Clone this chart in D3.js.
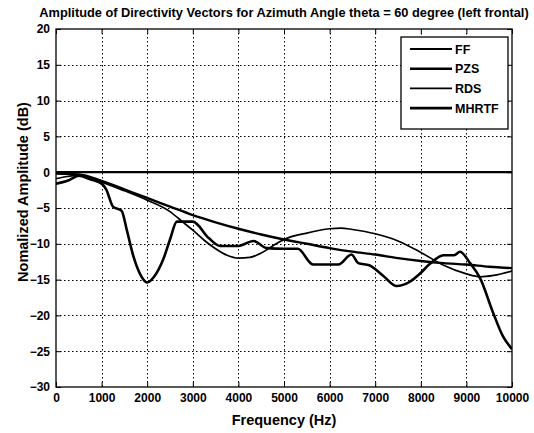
<!DOCTYPE html>
<html>
<head>
<meta charset="utf-8">
<script src="https://cdn.jsdelivr.net/npm/d3@7"></script>
<style>
  html, body { margin: 0; padding: 0; background: #fff; }
  svg { display: block; }
  text { font-family: "Liberation Sans", Arial, sans-serif; font-weight: bold; fill: #000; }
</style>
</head>
<body>
<svg id="chart" width="534" height="433"></svg>
<script>
// Tick values
const xTicks = [0, 1000, 2000, 3000, 4000, 5000, 6000, 7000, 8000, 9000, 10000];
const yTicks = [20, 15, 10, 5, 0, -5, -10, -15, -20, -25, -30];

// Series names
const seriesNames = ["FF", "PZS", "RDS", "MHRTF"];

// FF: free field reference (flat)
const ffFreq = [0, 10000];
const ffAmp = [0, 0];

// PZS
const pzsFreq = [0, 500, 1000, 1500, 2000, 2500, 3000, 3500, 4000, 4500, 5000, 5500, 6000, 6500, 7000, 7500, 8000, 8500, 9000, 9500, 10000];
const pzsAmp = [-0.2, -0.3, -1.2, -2.4, -3.6, -4.8, -6.0, -7.0, -7.9, -8.7, -9.4, -10.0, -10.6, -11.1, -11.5, -12.0, -12.4, -12.7, -12.9, -13.2, -13.4];

// RDS
const rdsFreq = [0, 250, 500, 750, 1000, 1500, 2000, 2500, 2750, 3000, 3250, 3500, 3750, 4000, 4250, 4500, 4750, 5000, 5500, 6000, 6250, 6500, 7000, 7500, 8000, 8500, 9000, 9300, 9600, 10000];
const rdsAmp = [-0.9, -0.6, -0.4, -0.9, -1.4, -2.6, -3.9, -5.5, -6.8, -8.1, -9.5, -10.7, -11.6, -12.0, -11.9, -11.3, -10.3, -9.4, -8.5, -7.9, -7.8, -8.0, -8.6, -9.6, -11.2, -13.0, -14.2, -14.6, -14.4, -13.8];

// MHRTF
const mhrtfFreq = [0, 250, 500, 750, 1000, 1100, 1250, 1440, 1550, 1700, 1850, 2000, 2150, 2350, 2500, 2650, 3000, 3350, 3600, 4000, 4330, 4620, 5000, 5300, 5640, 6190, 6480, 6630, 6870, 7180, 7470, 7760, 7960, 8200, 8500, 8730, 8860, 9080, 9300, 9590, 9800, 10000];
const mhrtfAmp = [-1.6, -1.2, -0.5, -1.0, -1.6, -2.4, -4.8, -5.4, -8.0, -11.8, -14.3, -15.4, -14.6, -12.2, -9.4, -6.9, -6.9, -9.2, -10.3, -10.3, -9.6, -10.6, -10.7, -10.7, -12.9, -12.9, -11.5, -12.7, -13.0, -14.5, -15.9, -15.3, -14.3, -12.8, -11.6, -11.6, -11.1, -12.7, -14.8, -19.7, -22.9, -24.7];

const seriesData = [
  { name: seriesNames[0], freq: ffFreq, amp: ffAmp, width: 2.2 },
  { name: seriesNames[1], freq: pzsFreq, amp: pzsAmp, width: 2.4 },
  { name: seriesNames[2], freq: rdsFreq, amp: rdsAmp, width: 1.7 },
  { name: seriesNames[3], freq: mhrtfFreq, amp: mhrtfAmp, width: 2.6 }
];

const svg = d3.select("#chart");
const plot = { left: 56, right: 512, top: 29, bottom: 387 };

const x = d3.scaleLinear().domain([0, 10000]).range([plot.left, plot.right]);
const y = d3.scaleLinear().domain([-30, 20]).range([plot.bottom, plot.top]);

// Dotted grid
const grid = svg.append("g").attr("stroke", "#000").attr("stroke-width", 1).attr("stroke-dasharray", "1.5,2.5");
grid.selectAll("line.gx").data(xTicks.slice(1, -1)).join("line")
  .attr("x1", d => Math.round(x(d)) + 0.5).attr("x2", d => Math.round(x(d)) + 0.5)
  .attr("y1", plot.top).attr("y2", plot.bottom);
grid.selectAll("line.gy").data(yTicks.slice(1, -1)).join("line")
  .attr("y1", d => Math.round(y(d)) + 0.5).attr("y2", d => Math.round(y(d)) + 0.5)
  .attr("x1", plot.left).attr("x2", plot.right);

// Axes (labels on bottom/left, inward ticks on all four sides)
const tickLen = 5;
const xAxis = d3.axisBottom(x).tickValues(xTicks).tickSizeInner(-tickLen).tickSizeOuter(0).tickPadding(8).tickFormat(d3.format("d"));
const yAxis = d3.axisLeft(y).tickValues(yTicks).tickSizeInner(-tickLen).tickSizeOuter(0).tickPadding(6).tickFormat(d3.format("d"));
const gx = svg.append("g").attr("transform", `translate(0,${plot.bottom})`).call(xAxis);
const gy = svg.append("g").attr("transform", `translate(${plot.left},0)`).call(yAxis);
const gxTop = svg.append("g").attr("transform", `translate(0,${plot.top})`)
  .call(d3.axisTop(x).tickValues(xTicks).tickSizeInner(-tickLen).tickSizeOuter(0).tickFormat(""));
const gyRight = svg.append("g").attr("transform", `translate(${plot.right},0)`)
  .call(d3.axisRight(y).tickValues(yTicks).tickSizeInner(-tickLen).tickSizeOuter(0).tickFormat(""));
[gx, gy, gxTop, gyRight].forEach(g => {
  g.select(".domain").remove();
  g.selectAll(".tick line").attr("stroke", "#000").attr("stroke-width", 1);
});
gx.selectAll(".tick text").attr("font-size", 12).attr("font-family", null).attr("dy", "0.6em");
gy.selectAll(".tick text").attr("font-size", 12).attr("font-family", null);

// Frame
svg.append("rect")
  .attr("x", plot.left).attr("y", plot.top)
  .attr("width", plot.right - plot.left).attr("height", plot.bottom - plot.top)
  .attr("fill", "none").attr("stroke", "#000").attr("stroke-width", 1.3);

// Curves
const line = d3.line().x(d => x(d[0])).y(d => y(d[1])).curve(d3.curveMonotoneX);
svg.append("clipPath").attr("id", "plotclip").append("rect")
  .attr("x", plot.left).attr("y", plot.top)
  .attr("width", plot.right - plot.left).attr("height", plot.bottom - plot.top);
svg.append("g").attr("clip-path", "url(#plotclip)")
  .selectAll("path").data(seriesData).join("path")
  .attr("d", s => line(s.freq.map((f, i) => [f, s.amp[i]])))
  .attr("fill", "none").attr("stroke", "#000")
  .attr("stroke-width", s => s.width)
  .attr("stroke-linejoin", "round");

// Legend
const lg = svg.append("g");
lg.append("rect").attr("x", 401).attr("y", 37).attr("width", 107).attr("height", 92)
  .attr("fill", "#fff").attr("stroke", "#000").attr("stroke-width", 1.3);
const rows = lg.selectAll("g.row").data(seriesData).join("g")
  .attr("transform", (d, i) => `translate(0,${49 + i * 19.7})`);
rows.append("line").attr("x1", 410).attr("x2", 452).attr("y1", 0).attr("y2", 0)
  .attr("stroke", "#000").attr("stroke-width", d => d.width);
rows.append("text").attr("x", 455).attr("y", 0).attr("dy", "0.36em")
  .attr("font-size", 12.5).text(d => d.name);

// Titles
const title = svg.append("text").attr("x", (plot.left + plot.right) / 2).attr("y", 17)
  .attr("text-anchor", "middle").attr("font-size", 11)
  .text("Amplitude of Directivity Vectors for Azimuth Angle theta = 60 degree (left frontal)");
// size the title so it spans the width above the axes
const tw = title.node().getComputedTextLength();
title.attr("font-size", 11 * 490 / tw);

svg.append("text").attr("x", (plot.left + plot.right) / 2).attr("y", 425)
  .attr("text-anchor", "middle").attr("font-size", 14.5)
  .text("Frequency (Hz)");
svg.append("text")
  .attr("transform", `translate(28,192) rotate(-90)`)
  .attr("text-anchor", "middle").attr("font-size", 14.5)
  .text("Nomalized Amplitude (dB)");
</script>
</body>
</html>
